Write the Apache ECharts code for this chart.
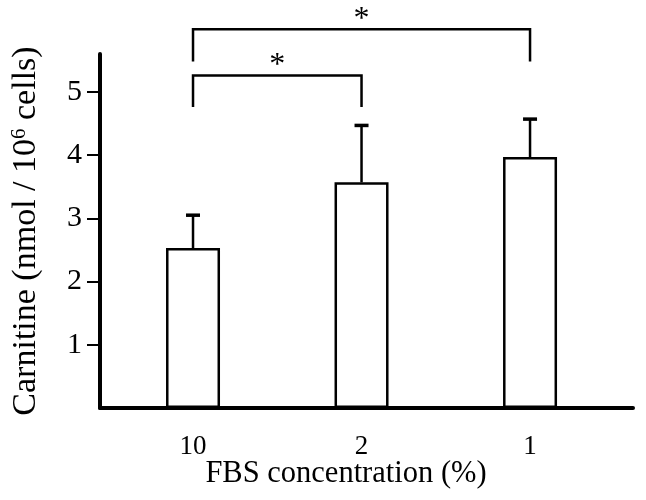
<!DOCTYPE html>
<html>
<head>
<meta charset="utf-8">
<script src="https://cdn.jsdelivr.net/npm/echarts@6/dist/echarts.min.js"></script>
<style>html,body{margin:0;padding:0;background:#fff}#c{width:646px;height:500px}</style>
</head>
<body>
<div id="c"></div>
<script>
// ---- data ----
var categories = ['10', '2', '1'];
var means = [2.53, 3.57, 3.97];
var errors = [0.52, 0.90, 0.60];
var yTicks = [1, 2, 3, 4, 5];
// significance brackets: [fromIndex, toIndex, legBottomValue, barValue]
var brackets = [[0, 1, 4.76, 5.26], [0, 2, 5.48, 5.99]];
var sigLabels = ['*', '*'];

var FONT = '"Liberation Serif", "Times New Roman", serif';
var chart = echarts.init(document.getElementById('c'), null, {renderer: 'canvas'});

var barData = categories.map(function (c, i) { return [i, means[i]]; });
var errData = categories.map(function (c, i) { return [i, means[i], means[i] + errors[i]]; });
var brData = brackets.map(function (b, i) { return [b[0], b[1], b[2], b[3], i]; });

chart.setOption({
  animation: false,
  backgroundColor: '#fff',
  grid: {left: 100, right: 13, top: 54, bottom: 92, containLabel: false, outerBoundsMode: 'none'},
  xAxis: {
    type: 'value', min: -0.552, max: 2.611,
    splitLine: {show: false},
    axisLine: {show: true, onZero: false, lineStyle: {color: '#000', width: 4}},
    axisTick: {show: false},
    axisLabel: {
      customValues: [0, 1, 2],
      formatter: function (v) { return categories[Math.round(v)]; },
      color: '#000', fontFamily: FONT, fontSize: 27, margin: 25
    }
  },
  yAxis: {
    type: 'value', min: 0, max: 5.6,
    splitLine: {show: false},
    axisLine: {show: true, onZero: false, lineStyle: {color: '#000', width: 4}},
    axisTick: {show: true, customValues: yTicks, length: 13, lineStyle: {color: '#000', width: 2}},
    axisLabel: {customValues: yTicks, color: '#000', fontFamily: FONT, fontSize: 30, margin: 18},
    name: '{a|Carnitine (nmol / 10}{s|6}{a| cells)}',
    nameLocation: 'middle', nameGap: 57, nameRotate: 90,
    nameTextStyle: {
      color: '#000', fontFamily: FONT, fontSize: 34,
      rich: {
        a: {fontFamily: FONT, fontSize: 34, color: '#000'},
        s: {fontFamily: FONT, fontSize: 21, color: '#000', padding: [0, 0, 13, 0]}
      }
    }
  },
  graphic: [{
    type: 'text', x: 346, y: 474,
    style: {text: 'FBS concentration (%)', font: '30.5px ' + FONT, fill: '#000', align: 'center', verticalAlign: 'middle'}
  }],
  series: [
    {
      type: 'bar', data: barData, barWidth: 54, z: 2,
      itemStyle: {color: '#fff', borderColor: '#000', borderWidth: 2.5}
    },
    {
      type: 'custom', data: errData, z: 3,
      renderItem: function (params, api) {
        var p0 = api.coord([api.value(0), api.value(1)]);
        var p1 = api.coord([api.value(0), api.value(2)]);
        return {type: 'group', children: [
          {type: 'line', shape: {x1: p0[0], y1: p0[1], x2: p1[0], y2: p1[1]}, style: {stroke: '#000', lineWidth: 2.5}},
          {type: 'line', shape: {x1: p1[0] - 7, y1: p1[1], x2: p1[0] + 7, y2: p1[1]}, style: {stroke: '#000', lineWidth: 3.5}}
        ]};
      }
    },
    {
      type: 'custom', data: brData, z: 3, clip: false,
      renderItem: function (params, api) {
        var a = api.coord([api.value(0), api.value(2)]);
        var b = api.coord([api.value(1), api.value(2)]);
        var ta = api.coord([api.value(0), api.value(3)]);
        var tb = api.coord([api.value(1), api.value(3)]);
        var mid = (ta[0] + tb[0]) / 2;
        return {type: 'group', children: [
          {type: 'polyline', shape: {points: [[a[0], a[1]], [ta[0], ta[1]], [tb[0], tb[1]], [b[0], b[1]]]},
           style: {stroke: '#000', lineWidth: 2.5, fill: null, lineJoin: 'miter'}},
          {type: 'text', x: mid, y: ta[1] + 6,
           style: {text: sigLabels[api.value(4)], font: '32px ' + FONT, fill: '#000', align: 'center', verticalAlign: 'bottom'}}
        ]};
      }
    }
  ]
});
</script>
</body>
</html>
